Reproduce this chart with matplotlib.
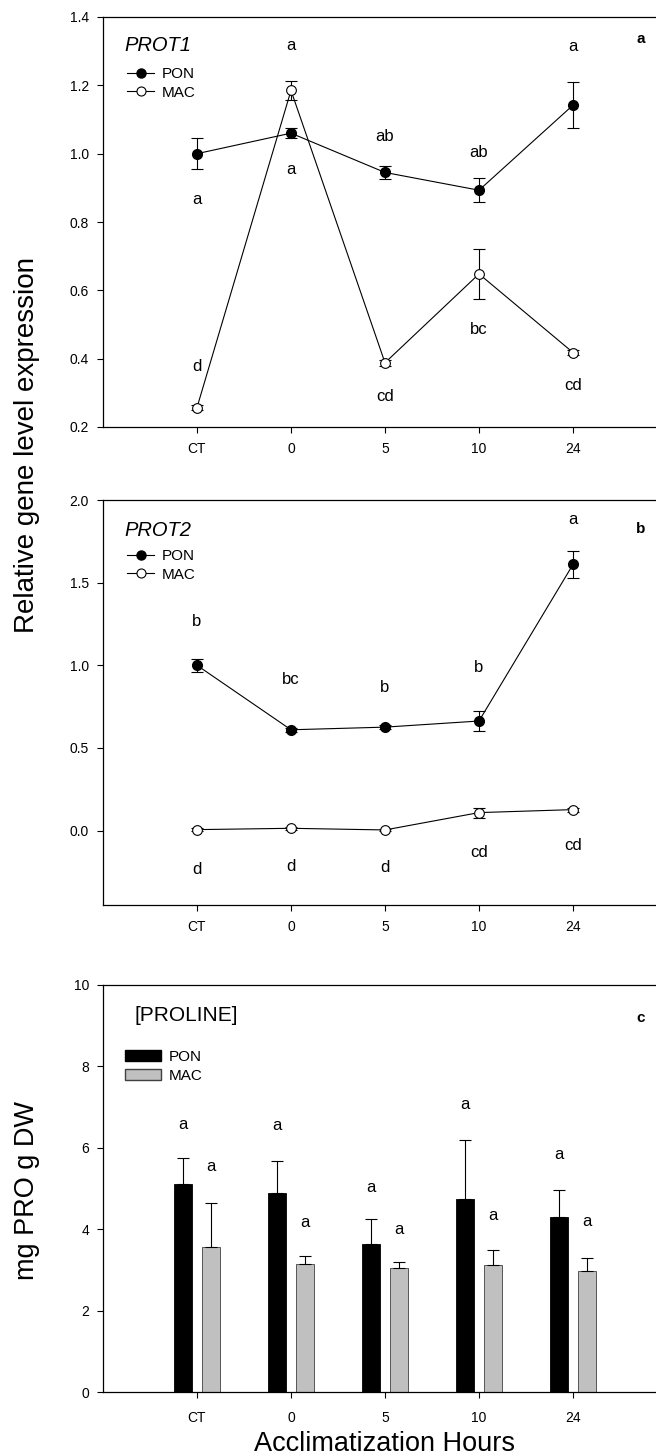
import matplotlib
matplotlib.use("Agg")
import matplotlib.pyplot as plt
import numpy as np
from matplotlib.patches import Patch
from matplotlib.lines import Line2D

plt.rcParams['font.family'] = ['Liberation Sans', 'DejaVu Sans']

categories = ["CT", "0", "5", "10", "24"]

# Panel a: PROT1
prot1_pon = [1.00, 1.06, 0.945, 0.893, 1.142]
prot1_pon_err = [0.045, 0.015, 0.02, 0.035, 0.068]
prot1_mac = [0.257, 1.185, 0.388, 0.648, 0.418]
prot1_mac_err = [0.006, 0.027, 0.008, 0.072, 0.008]
prot1_pon_letters = ["a", "a", "ab", "ab", "a"]
prot1_pon_letter_y = [0.865, 1.316, 1.05, 1.004, 1.313]
prot1_mac_letters = ["d", "a", "cd", "bc", "cd"]
prot1_mac_letter_y = [0.377, 0.954, 0.289, 0.484, 0.321]

# Panel b: PROT2
prot2_pon = [1.00, 0.61, 0.626, 0.663, 1.61]
prot2_pon_err = [0.04, 0.012, 0.012, 0.06, 0.08]
prot2_mac = [0.006, 0.014, 0.004, 0.109, 0.127]
prot2_mac_err = [0.008, 0.008, 0.008, 0.03, 0.012]
prot2_pon_letters = ["b", "bc", "b", "b", "a"]
prot2_pon_letter_y = [1.263, 0.913, 0.865, 0.986, 1.883]
prot2_mac_letters = ["d", "d", "d", "cd", "cd"]
prot2_mac_letter_y = [-0.238, -0.218, -0.222, -0.131, -0.091]

# Panel c: proline
pro_pon = [5.10, 4.89, 3.64, 4.73, 4.29]
pro_pon_err = [0.64, 0.78, 0.62, 1.45, 0.67]
pro_mac = [3.56, 3.15, 3.05, 3.12, 2.98]
pro_mac_err = [1.09, 0.20, 0.15, 0.36, 0.32]
pro_pon_letter_y = [6.57, 6.56, 5.02, 7.07, 5.84]
pro_mac_letter_y = [5.53, 4.16, 4.00, 4.34, 4.18]

W, H = 656, 1455
fig = plt.figure(figsize=(W / 100, H / 100), dpi=100)

def ax_rect(top_px, bottom_px, left_px=103, right_px=667):
    return [left_px / W, 1 - bottom_px / H, (right_px - left_px) / W, (bottom_px - top_px) / H]

x = np.arange(len(categories))
LETTER_FS = 12

def style_ax(ax, xpad=7):
    ax.spines['right'].set_visible(False)
    for s in ['left', 'top', 'bottom']:
        ax.spines[s].set_linewidth(0.9)
    ax.set_xlim(-1, 5)
    ax.set_xticks(x)
    ax.set_xticklabels(categories)
    ax.tick_params(axis='both', labelsize=10, direction='out', width=0.8)
    ax.tick_params(axis='y', length=4, pad=6)
    ax.tick_params(axis='x', length=4, pad=xpad)

def line_panel(ax, pon, pon_err, mac, mac_err, pl, ply, ml, mly, title, panel_label, label_y, title_y, leg_y):
    ax.errorbar(x, pon, yerr=pon_err, color='black', lw=0.8, marker='o', ms=7,
                mfc='black', mec='black', capsize=4, elinewidth=0.8, capthick=0.8, zorder=3)
    ax.errorbar(x, mac, yerr=mac_err, color='black', lw=0.8, marker='o', ms=7,
                mfc='white', mec='black', mew=0.8, capsize=4, elinewidth=0.8, capthick=0.8, zorder=3)
    for xi, t, yv in zip(x, pl, ply):
        ax.text(xi, yv, t, ha='center', va='center', fontsize=LETTER_FS)
    for xi, t, yv in zip(x, ml, mly):
        ax.text(xi, yv, t, ha='center', va='center', fontsize=LETTER_FS)
    ax.text(-0.77, title_y, title, fontsize=14.5, style='italic', ha='left', va='center')
    ax.text(4.72, label_y, panel_label, fontsize=11, fontweight='bold', ha='center', va='center')
    handles = [Line2D([0], [0], color='black', lw=0.8, marker='o', ms=6.5, mfc='black', mec='black'),
               Line2D([0], [0], color='black', lw=0.8, marker='o', ms=6.5, mfc='white', mec='black', mew=0.8)]
    ax.legend(handles, ['PON', 'MAC'], loc='upper left', bbox_to_anchor=(0.0425, leg_y),
              frameon=False, fontsize=11, handlelength=1.8, handletextpad=0.5,
              labelspacing=0.3, borderaxespad=0, borderpad=0)

ax1 = fig.add_axes(ax_rect(17, 427))
style_ax(ax1)
ax1.set_ylim(0.2, 1.4)
ax1.set_yticks([0.2, 0.4, 0.6, 0.8, 1.0, 1.2, 1.4])
ax1.set_yticklabels(["0.2", "0.4", "0.6", "0.8", "1.0", "1.2", "1.4"])
line_panel(ax1, prot1_pon, prot1_pon_err, prot1_mac, prot1_mac_err,
           prot1_pon_letters, prot1_pon_letter_y, prot1_mac_letters, prot1_mac_letter_y,
           "PROT1", "a", 1.336, 1.316, 0.878)

ax2 = fig.add_axes(ax_rect(500, 905))
style_ax(ax2)
ax2.set_ylim(-0.45, 2.0)
ax2.set_yticks([0.0, 0.5, 1.0, 1.5, 2.0])
ax2.set_yticklabels(["0.0", "0.5", "1.0", "1.5", "2.0"])
line_panel(ax2, prot2_pon, prot2_pon_err, prot2_mac, prot2_mac_err,
           prot2_pon_letters, prot2_pon_letter_y, prot2_mac_letters, prot2_mac_letter_y,
           "PROT2", "b", 1.822, 1.814, 0.879)

ax3 = fig.add_axes(ax_rect(985, 1392))
style_ax(ax3, xpad=10)
ax3.set_ylim(0, 10)
ax3.set_yticks([0, 2, 4, 6, 8, 10])
bw = 0.19
off = 0.15
ax3.bar(x - off, pro_pon, bw, color='black', edgecolor='black', lw=0.6, zorder=2)
ax3.bar(x + off, pro_mac, bw, color='#c0c0c0', edgecolor='#404040', lw=0.6, zorder=2)
ax3.errorbar(x - off, pro_pon, yerr=[np.zeros(5), pro_pon_err], fmt='none', ecolor='black',
             elinewidth=0.8, capsize=4, capthick=0.8, zorder=3)
ax3.errorbar(x + off, pro_mac, yerr=[np.zeros(5), pro_mac_err], fmt='none', ecolor='black',
             elinewidth=0.8, capsize=4, capthick=0.8, zorder=3)
for xi, yv in zip(x, pro_pon_letter_y):
    ax3.text(xi - off, yv, "a", ha='center', va='center', fontsize=LETTER_FS)
for xi, yv in zip(x, pro_mac_letter_y):
    ax3.text(xi + off, yv, "a", ha='center', va='center', fontsize=LETTER_FS)
ax3.text(-0.67, 9.26, "[PROLINE]", fontsize=15, ha='left', va='center')
ax3.text(4.72, 9.2, "c", fontsize=11, fontweight='bold', ha='center', va='center')
handles = [Patch(facecolor='black', edgecolor='black'),
           Patch(facecolor='#c0c0c0', edgecolor='#404040')]
ax3.legend(handles, ['PON', 'MAC'], loc='upper left', bbox_to_anchor=(0.039, 0.840),
           frameon=False, fontsize=11, handlelength=2.35, handleheight=0.72,
           handletextpad=0.5, labelspacing=0.3, borderaxespad=0, borderpad=0)
ax3.set_xlabel("Acclimatization Hours", fontsize=19.5, labelpad=4)

fig.text(27 / W, 1 - 445 / H, "Relative gene level expression", rotation=90,
         fontsize=20, ha='center', va='center')
fig.text(27 / W, 1 - 1190 / H, "mg PRO g DW", rotation=90,
         fontsize=19.5, ha='center', va='center')

fig.savefig("out.png", dpi=100)
